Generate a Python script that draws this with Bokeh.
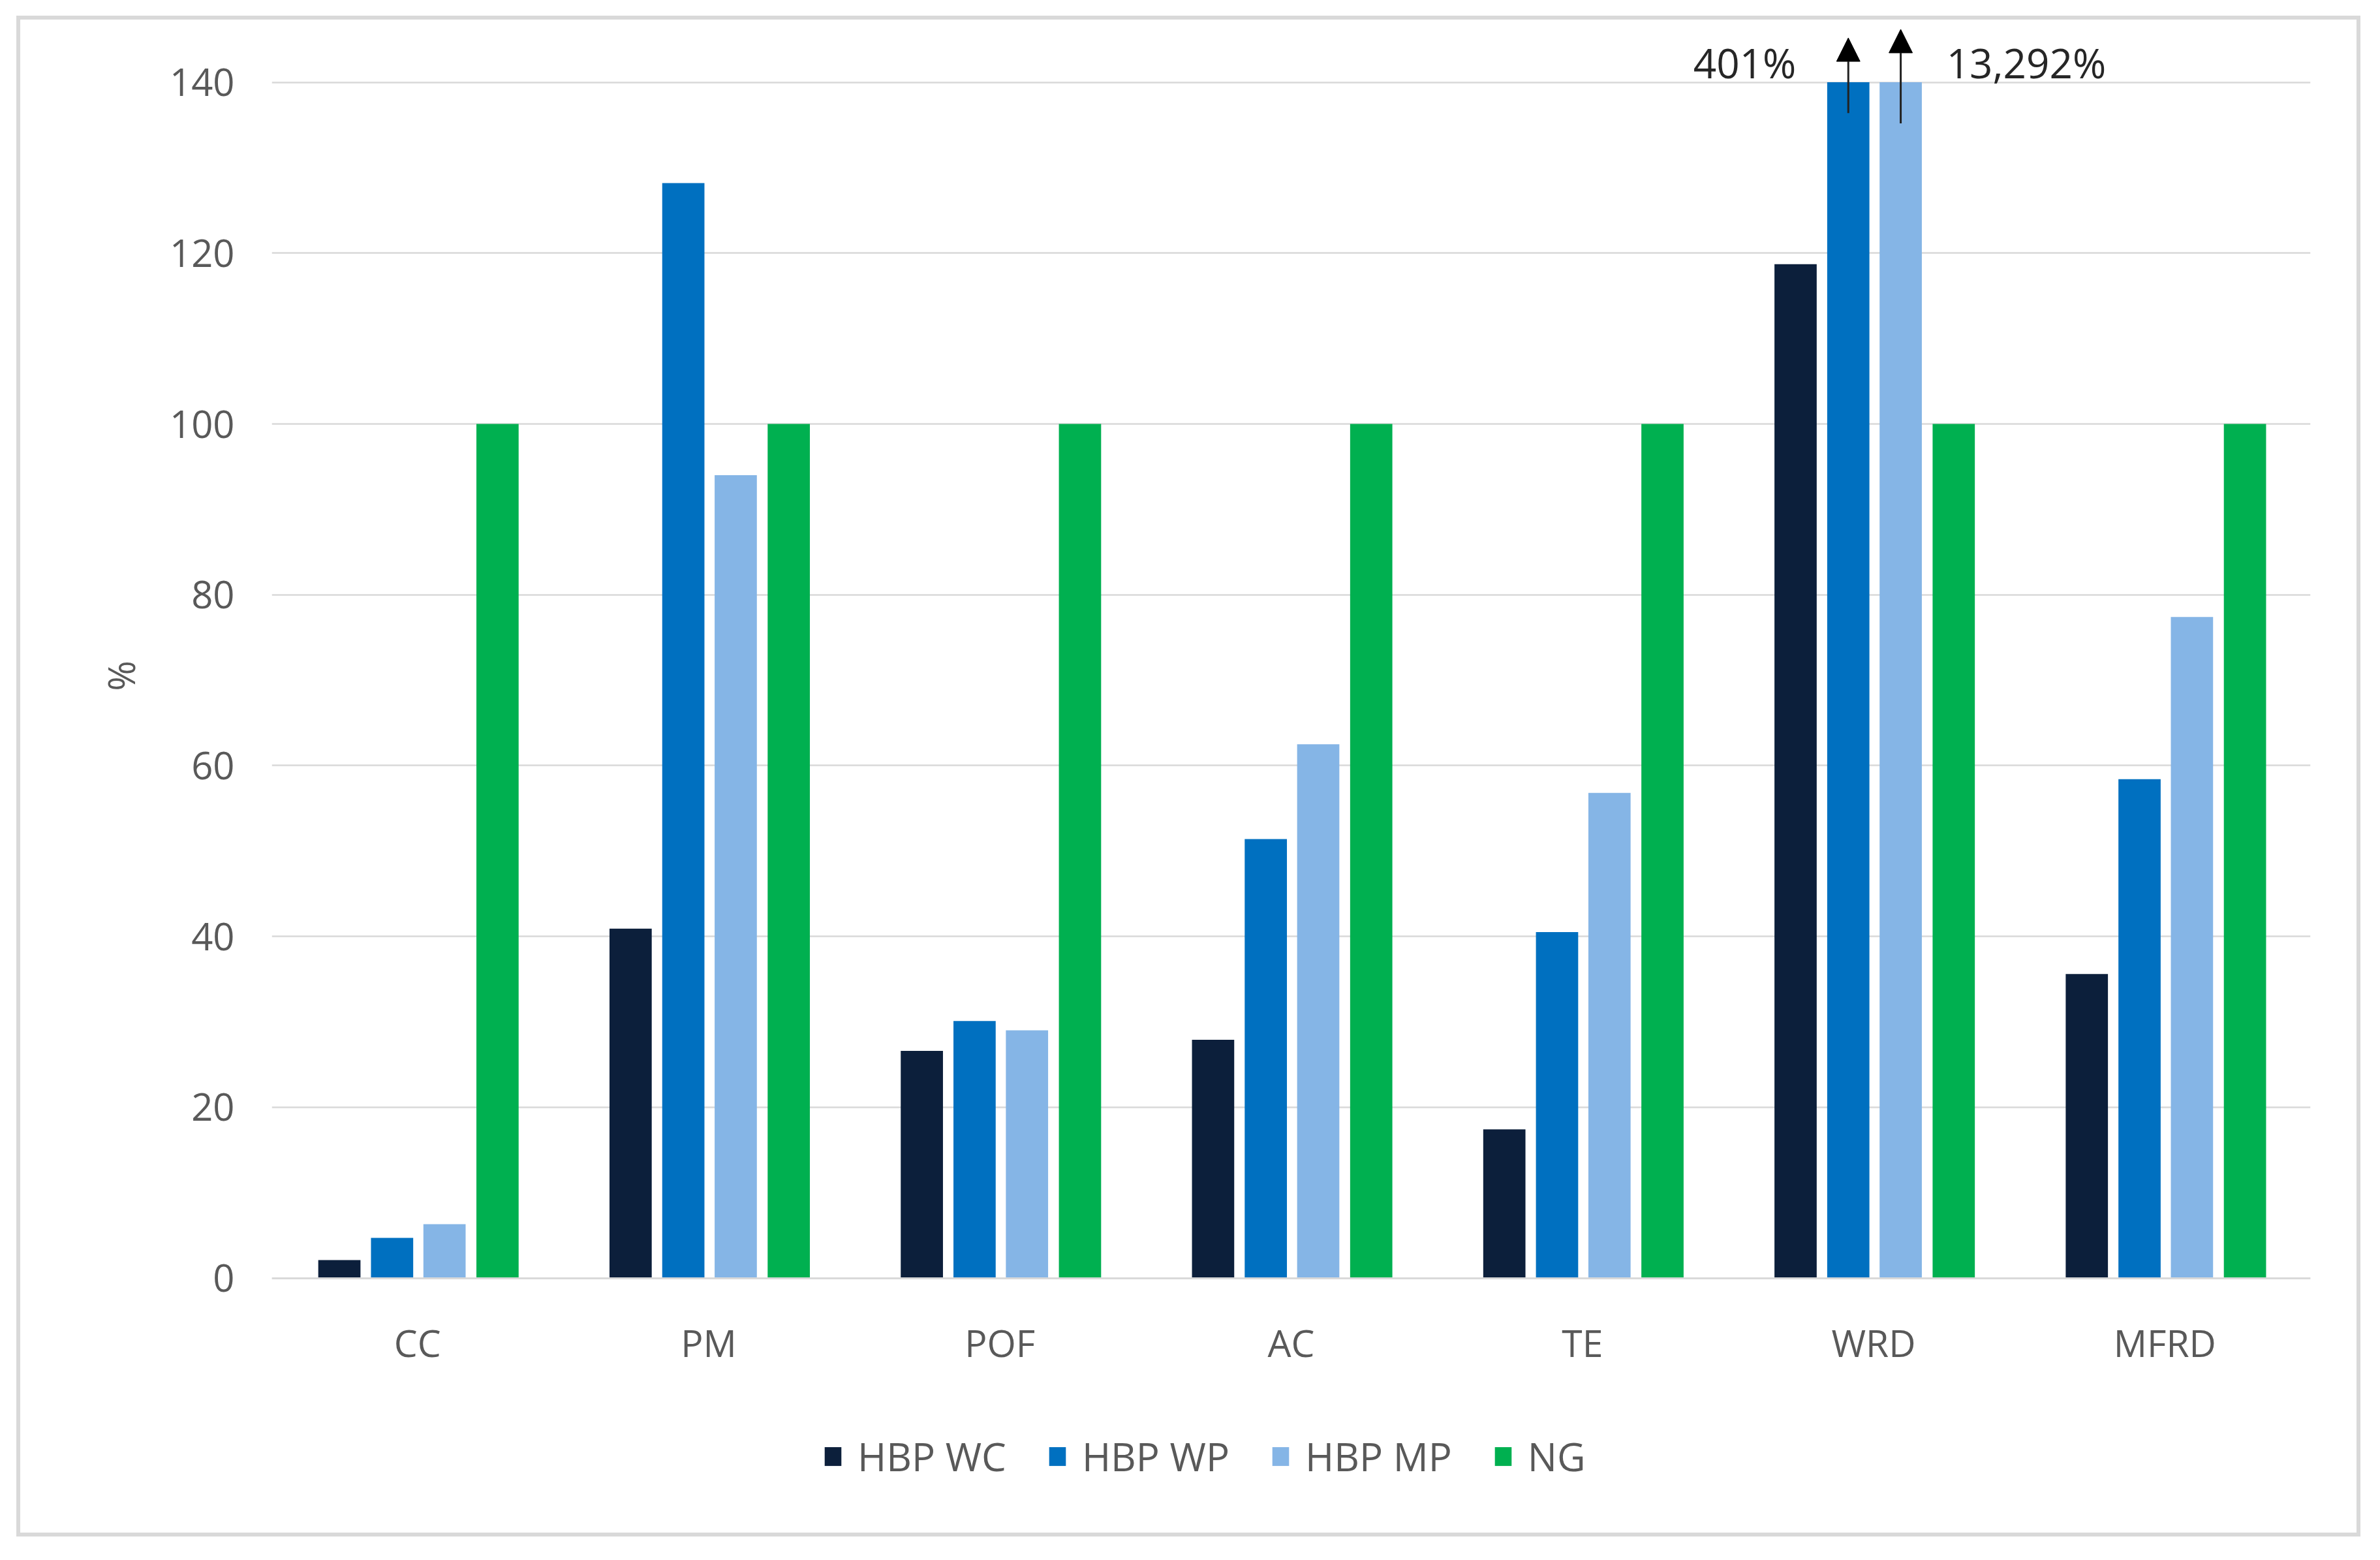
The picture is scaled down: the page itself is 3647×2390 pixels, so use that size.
import numpy as np
from bokeh.plotting import figure
from bokeh.models import (ColumnDataSource, FactorRange, FixedTicker, Legend, LegendItem,
                          Arrow, NormalHead, Title)
from bokeh.transform import dodge
from bokeh.core.properties import value
from bokeh.embed import file_html
from bokeh.resources import INLINE

# ---- data ----
categories = ["CC", "PM", "POF", "AC", "TE", "WRD", "MFRD"]
hbp_wc = [2.1, 40.9, 26.6, 27.9, 17.4, 118.7, 35.6]
hbp_wp = [4.7, 128.2, 30.1, 51.4, 40.5, 401.0, 58.4]
hbp_mp = [6.3, 94.0, 29.0, 62.5, 56.8, 13292.0, 77.4]
ng = [100, 100, 100, 100, 100, 100, 100]
series_names = ["HBP WC", "HBP WP", "HBP MP", "NG"]
y_ticks = [0, 20, 40, 60, 80, 100, 120, 140]
y_label = "%"
axis_cap = 140

colors = ["#0c1f3b", "#0070c0", "#85b5e6", "#00b050"]
offsets = [-0.268, -0.087, 0.093, 0.275]
FONT = "Open Sans"
GRAY = "#595959"

series = [hbp_wc, hbp_wp, hbp_mp, ng]
src = ColumnDataSource(dict(
    cat=categories,
    **{f"s{i}": np.minimum(np.array(s, dtype=float), axis_cap) for i, s in enumerate(series)}
))

p = figure(x_range=FactorRange(*categories), y_range=(-27.7, 147),
           width=3592, height=2330, output_backend="svg", toolbar_location=None,
           title=None, min_border_left=385, min_border_right=83,
           min_border_top=4, min_border_bottom=40,
           styles={"border": "6px solid #d9d9d9", "margin-left": "25px", "margin-top": "24px"})
p.outline_line_color = None
p.x_range.range_padding = 0

renderers = []
for i, name in enumerate(series_names):
    r = p.vbar(x=dodge("cat", offsets[i], range=p.x_range), top=f"s{i}", bottom=0, width=0.145,
               source=src, fill_color=colors[i], line_color=None)
    renderers.append(r)

# axes
p.yaxis.ticker = FixedTicker(ticks=y_ticks)
p.ygrid.ticker = FixedTicker(ticks=y_ticks)
p.ygrid.grid_line_color = "#d9d9d9"
p.ygrid.grid_line_width = 2.5
p.xgrid.grid_line_color = None

p.yaxis.axis_line_color = None
p.yaxis.major_tick_line_color = None
p.yaxis.minor_tick_line_color = None
p.yaxis.major_label_standoff = 51
p.yaxis.major_label_text_font = FONT
p.yaxis.major_label_text_font_size = "58px"
p.yaxis.major_label_text_color = GRAY

# y-axis title, centred on the 0..140 span
p.add_layout(Title(text=y_label, align="left", offset=1262, standoff=69,
                   text_font=FONT, text_font_size="56px", text_font_style="normal",
                   text_color=GRAY), "left")

p.xaxis.fixed_location = 0
p.xaxis.axis_line_color = "#d9d9d9"
p.xaxis.axis_line_width = 3
p.xaxis.major_tick_line_color = None
p.xaxis.minor_tick_line_color = None
p.xaxis.major_label_standoff = 54
p.xaxis.major_label_text_font = FONT
p.xaxis.major_label_text_font_size = "57px"
p.xaxis.major_label_text_color = GRAY

# overflow annotations for WRD
wrd = categories.index("WRD")
arr_src_wp = ColumnDataSource(dict(cat=["WRD"], y0=[axis_cap - 3.6], y1=[axis_cap + 5.2]))
arr_src_mp = ColumnDataSource(dict(cat=["WRD"], y0=[axis_cap - 4.8], y1=[axis_cap + 6.2]))
for s_, off in [(arr_src_wp, offsets[1]), (arr_src_mp, offsets[2])]:
    p.add_layout(Arrow(end=NormalHead(size=36, fill_color="black", line_color="black"),
                       x_start=dodge("cat", off, range=p.x_range), y_start="y0",
                       x_end=dodge("cat", off, range=p.x_range), y_end="y1",
                       source=s_, line_color="#222222", line_width=3))

lbl_wp = ColumnDataSource(dict(cat=["WRD"], y=[axis_cap + 2.3], t=[f"{hbp_wp[wrd]:,.0f}%"]))
lbl_mp = ColumnDataSource(dict(cat=["WRD"], y=[axis_cap + 2.3], t=[f"{hbp_mp[wrd]:,.0f}%"]))
p.text(x=dodge("cat", -0.266, range=p.x_range), y="y", text="t", source=lbl_wp,
       text_align="right", text_baseline="middle", text_font=value(FONT),
       text_font_size="62px", text_color="#262626")
p.text(x=dodge("cat", 0.25, range=p.x_range), y="y", text="t", source=lbl_mp,
       text_align="left", text_baseline="middle", text_font=value(FONT),
       text_font_size="62px", text_color="#262626")

legend = Legend(items=[LegendItem(label=n, renderers=[r]) for n, r in zip(series_names, renderers)],
                orientation="horizontal", location=(844, 48),
                border_line_color=None, background_fill_alpha=0, padding=0, margin=0,
                glyph_width=32, glyph_height=36, label_standoff=22, spacing=62,
                label_text_font=FONT, label_text_font_size="60px", label_text_color=GRAY)
p.add_layout(legend, "center")

open("out.html", "w").write(file_html(p, INLINE))
